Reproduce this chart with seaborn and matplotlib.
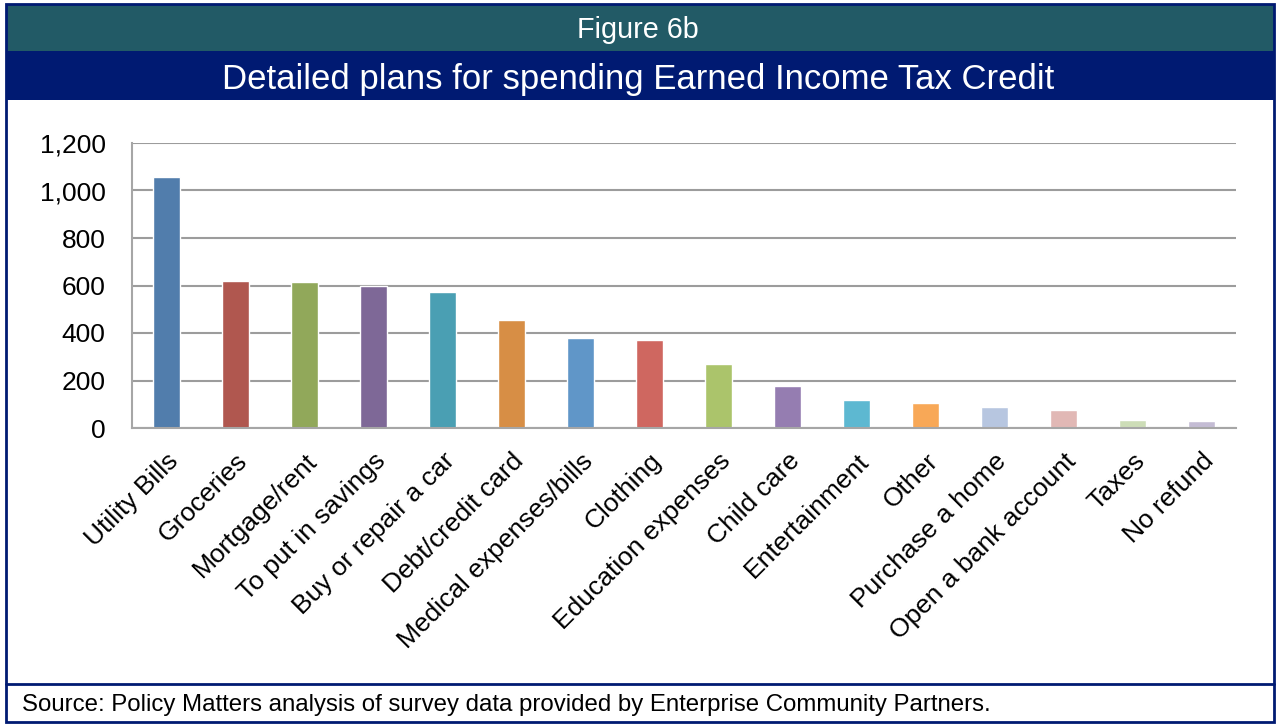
import matplotlib
matplotlib.use("Agg")
import matplotlib.pyplot as plt
from matplotlib.patches import Rectangle
from matplotlib.lines import Line2D
from matplotlib.ticker import FuncFormatter
import seaborn as sns
import pandas as pd

categories = [
    "Utility Bills", "Groceries", "Mortgage/rent", "To put in savings",
    "Buy or repair a car", "Debt/credit card", "Medical expenses/bills",
    "Clothing", "Education expenses", "Child care", "Entertainment",
    "Other", "Purchase a home", "Open a bank account", "Taxes", "No refund",
]
responses = [1055, 621, 613, 597, 571, 453, 378, 369, 269, 176, 117, 105, 88, 76, 34, 29]
bar_colors = [
    "#517dac", "#b0574f", "#91a85a", "#7e6897", "#4a9fb3", "#d78e45",
    "#6096c8", "#cf6760", "#abc46b", "#957db1", "#5db8d1", "#f8a857",
    "#b7c6e0", "#e1b8b5", "#cdddb7", "#c4bcd4",
]
y_ticks = [0, 200, 400, 600, 800, 1000, 1200]

header_title = "Figure 6b"
chart_title = "Detailed plans for spending Earned Income Tax Credit"
source_note = "Source: Policy Matters analysis of survey data provided by Enterprise Community Partners."

sns.set_theme(style="white")
plt.rcParams["font.family"] = ["Liberation Sans", "DejaVu Sans"]

W, H = 1276, 725
fig = plt.figure(figsize=(W / 100, H / 100), dpi=100)
fig.patch.set_facecolor("white")

def fx(x):
    return x / W

def fy(y):
    return 1 - y / H

teal = "#225a66"
navy = "#001a72"

# header bands
fig.add_artist(Rectangle((fx(7), fy(51)), fx(1274 - 7), fy(4) - fy(51),
                         transform=fig.transFigure, facecolor=teal, edgecolor="none"))
fig.add_artist(Rectangle((fx(7), fy(100)), fx(1274 - 7), fy(51) - fy(100),
                         transform=fig.transFigure, facecolor=navy, edgecolor="none"))
fig.text(0.5, fy(30), header_title, color="white", fontsize=20.7, ha="center", va="center")
fig.text(0.5, fy(79), chart_title, color="white", fontsize=25, ha="center", va="center")

# outer frame and footer separator
fig.add_artist(Rectangle((fx(6), fy(722)), fx(1274 - 6), fy(4) - fy(722),
                         transform=fig.transFigure, facecolor="none", edgecolor=navy, linewidth=2))
fig.add_artist(Line2D([fx(6), fx(1274)], [fy(684), fy(684)], transform=fig.transFigure,
                      color=navy, linewidth=2))
fig.text(fx(22), fy(705), source_note, color="black", fontsize=17.3, ha="left", va="center")

# bar chart
ax = fig.add_axes([fx(132), fy(428), fx(1236 - 132), fy(143) - fy(428)])
df = pd.DataFrame({"category": categories, "count": responses})
sns.barplot(data=df, x="category", y="count", hue="category", palette=bar_colors,
            legend=False, width=0.4, saturation=1, ax=ax)

ax.set_ylim(0, 1200)
ax.set_xlim(-0.5, len(categories) - 0.5)
ax.set_yticks(y_ticks)
ax.yaxis.set_major_formatter(FuncFormatter(lambda v, p: f"{int(v):,}"))
ax.grid(axis="y", color="#9c9c9c", linewidth=1.5)
ax.set_axisbelow(True)
ax.set_xlabel("")
ax.set_ylabel("")
for side in ("top", "right"):
    ax.spines[side].set_visible(False)
for side in ("left", "bottom"):
    ax.spines[side].set_color("#a6a6a6")
    ax.spines[side].set_linewidth(1.5)
ax.tick_params(axis="y", labelsize=19, length=0, pad=19, colors="black")
ax.tick_params(axis="x", labelsize=19, length=0, pad=15, colors="black")
for lbl in ax.get_xticklabels():
    lbl.set_rotation(45)
    lbl.set_ha("right")
    lbl.set_rotation_mode("anchor")

fig.savefig("out.png", dpi=100, facecolor="white")
